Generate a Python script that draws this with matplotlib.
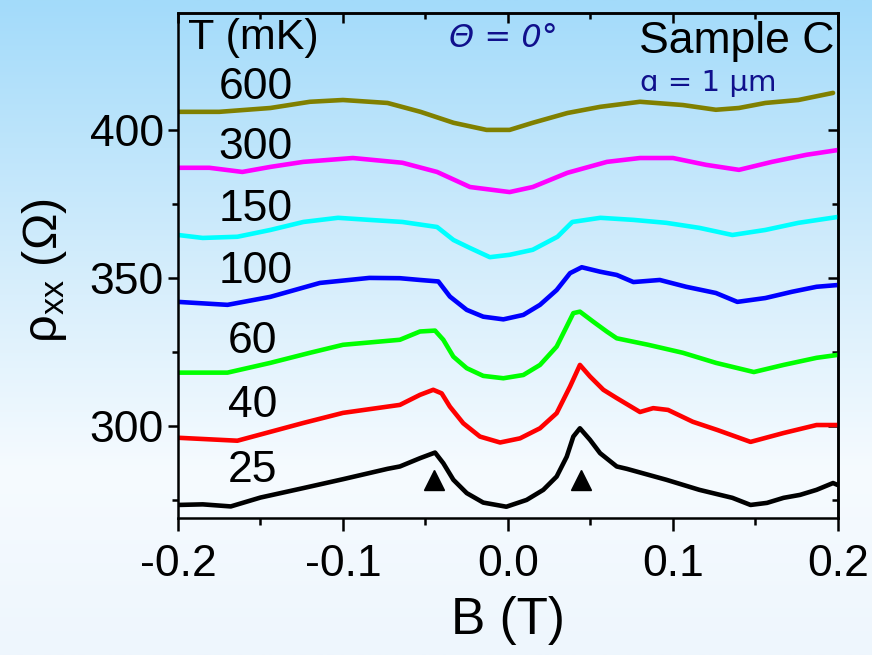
import numpy as np
import matplotlib
matplotlib.use("Agg")
import matplotlib.pyplot as plt
from matplotlib.colors import LinearSegmentedColormap

plt.rcParams['font.family'] = ['Liberation Sans', 'DejaVu Sans']
plt.rcParams['mathtext.fontset'] = 'custom'
plt.rcParams['mathtext.rm'] = 'Liberation Sans'
plt.rcParams['mathtext.it'] = 'Liberation Sans:italic'

# rho_xx(B) traces at each temperature (B in tesla, rho in ohm)
b_25 = [-0.200, -0.185, -0.168, -0.150, -0.124, -0.100, -0.073, -0.0655, -0.0533, -0.0442,
        -0.0392, -0.0331, -0.025, -0.015, -0.001, 0.0113, 0.0214, 0.0295, 0.0356, 0.0396,
        0.0436, 0.0497, 0.0558, 0.0659, 0.072, 0.096, 0.116, 0.136, 0.147, 0.157,
        0.167, 0.177, 0.187, 0.197, 0.200]
rho_25 = [273.3, 273.5, 272.8, 275.8, 279.0, 282.0, 285.5, 286.3, 289.1, 291.0,
          287.4, 281.8, 277.3, 274.1, 272.7, 275.0, 278.4, 282.9, 289.6, 296.4,
          299.2, 295.3, 290.8, 286.3, 285.5, 281.8, 278.4, 275.7, 273.3, 274.0,
          275.7, 276.7, 278.4, 280.7, 280.0]

b_40 = [-0.200, -0.164, -0.144, -0.124, -0.100, -0.0655, -0.0533, -0.0453, -0.0402, -0.0352,
        -0.0271, -0.017, -0.0048, 0.0073, 0.0194, 0.0295, 0.0376, 0.0436, 0.0497, 0.0578,
        0.0659, 0.080, 0.088, 0.097, 0.112, 0.127, 0.147, 0.167, 0.187, 0.200]
rho_40 = [296.0, 295.0, 298.0, 301.0, 304.4, 307.1, 310.5, 312.2, 311.0, 306.5,
          300.9, 296.4, 294.4, 295.8, 299.2, 304.3, 313.3, 320.6, 316.7, 312.2,
          309.4, 304.7, 306.0, 305.4, 301.4, 298.6, 294.6, 297.6, 300.3, 300.3]

b_60 = [-0.200, -0.170, -0.144, -0.120, -0.100, -0.0655, -0.0533, -0.0442, -0.0392, -0.0331,
        -0.025, -0.015, -0.0028, 0.0093, 0.0194, 0.0295, 0.0356, 0.0396, 0.0436, 0.0517,
        0.0598, 0.0659, 0.085, 0.106, 0.126, 0.149, 0.167, 0.187, 0.200]
rho_60 = [318.0, 318.0, 321.3, 324.7, 327.4, 329.1, 331.9, 332.2, 329.1, 323.4,
          319.5, 316.9, 316.1, 317.2, 320.6, 326.8, 333.6, 338.1, 338.6, 335.2,
          331.9, 329.6, 327.4, 324.7, 321.3, 318.2, 320.6, 323.0, 324.0]

b_100 = [-0.200, -0.170, -0.144, -0.114, -0.084, -0.0655, -0.0533, -0.0422, -0.0352, -0.025,
         -0.015, -0.0028, 0.0093, 0.0194, 0.0295, 0.0376, 0.0447, 0.0558, 0.0659, 0.076,
         0.092, 0.108, 0.126, 0.139, 0.156, 0.172, 0.187, 0.200]
rho_100 = [341.9, 340.9, 343.6, 348.3, 350.0, 349.9, 349.3, 348.8, 343.7, 339.2,
           336.9, 336.0, 337.5, 340.9, 345.9, 351.6, 353.6, 352.1, 351.0, 348.6,
           349.3, 347.0, 344.9, 341.9, 343.2, 345.3, 347.0, 347.6]

b_150 = [-0.200, -0.185, -0.164, -0.144, -0.124, -0.103, -0.084, -0.064, -0.043, -0.033,
         -0.023, -0.011, 0.001, 0.015, 0.030, 0.039, 0.056, 0.076, 0.096, 0.116,
         0.136, 0.156, 0.176, 0.200]
rho_150 = [364.5, 363.5, 363.9, 366.2, 368.9, 370.3, 369.6, 368.9, 367.2, 362.8,
           360.1, 357.0, 357.8, 359.5, 363.9, 368.9, 370.3, 369.6, 368.6, 366.9,
           364.5, 366.2, 368.6, 370.6]

b_300 = [-0.200, -0.181, -0.161, -0.144, -0.124, -0.094, -0.064, -0.043, -0.023, 0.001,
         0.015, 0.036, 0.060, 0.080, 0.100, 0.120, 0.140, 0.160, 0.181, 0.200]
rho_300 = [387.2, 387.2, 385.8, 387.5, 389.2, 390.5, 388.9, 385.8, 380.7, 379.0,
           380.7, 385.5, 389.2, 390.5, 390.5, 388.2, 386.5, 389.2, 391.6, 393.2]

b_600 = [-0.200, -0.175, -0.144, -0.120, -0.100, -0.073, -0.053, -0.033, -0.013, 0.001,
         0.015, 0.036, 0.056, 0.080, 0.106, 0.126, 0.140, 0.156, 0.176, 0.197]
rho_600 = [406.1, 406.1, 407.4, 409.5, 410.1, 409.1, 406.1, 402.4, 400.0, 400.0,
           402.4, 405.7, 407.8, 409.5, 408.4, 406.8, 407.4, 409.1, 410.1, 412.5]

temps = ['600', '300', '150', '100', '60', '40', '25']
colors = ['#808000', '#ff00ff', '#00ffff', '#0000ff', '#00ff00', '#ff0000', '#000000']
label_x = [-0.153, -0.153, -0.153, -0.153, -0.155, -0.155, -0.155]
label_y = [414.2, 393.9, 373.0, 352.0, 328.4, 306.8, 285.0]

# field positions of the two peaks marked with triangles
mark_b = [-0.045, 0.044]
mark_rho = [281.8, 281.8]

fig = plt.figure(figsize=(8.72, 6.55), dpi=100)

# page background: light blue at the top fading to near white
bg = fig.add_axes([0, 0, 1, 1], zorder=-10)
cmap = LinearSegmentedColormap.from_list(
    'bg', [(0.0, '#a3dbfa'), (0.45, '#d9effc'), (0.72, '#f6fbff'), (1.0, '#eef6fd')])
grad = np.linspace(0, 1, 256).reshape(-1, 1)
bg.imshow(grad, aspect='auto', cmap=cmap, extent=[0, 1, 0, 1], origin='upper')
bg.axis('off')

ax = fig.add_axes([0.2041, 0.2092, 0.7569, 0.7710])
ax.set_facecolor('none')

series = [(b_600, rho_600), (b_300, rho_300), (b_150, rho_150), (b_100, rho_100),
          (b_60, rho_60), (b_40, rho_40), (b_25, rho_25)]
for (b, r), c in zip(series, colors):
    ax.plot(b, r, color=c, lw=3.3, solid_joinstyle='round', solid_capstyle='round')

for t, x, y in zip(temps, label_x, label_y):
    ax.text(x, y, t, fontsize=32, ha='center', va='center', color='black')

ax.plot(mark_b, mark_rho, linestyle='none', marker='^', ms=15, color='black')

ax.text(-0.194, 431, 'T (mK)', fontsize=31, ha='left', va='center')
ax.text(0.198, 430, 'Sample C', fontsize=32, ha='right', va='center')
ax.text(-0.036, 431, 'Θ = 0°', fontsize=23, ha='left', va='center',
        color='#10108c', style='italic', family=['DejaVu Sans'])
ax.text(0.080, 415.8, 'ɑ = 1 μm', fontsize=21, ha='left', va='center',
        color='#10108c', family=['DejaVu Sans'])

ax.set_xlim(-0.2, 0.2)
ax.set_ylim(268.9, 439.5)
ax.set_xticks([-0.2, -0.1, 0.0, 0.1, 0.2])
ax.set_xticklabels(['-0.2', '-0.1', '0.0', '0.1', '0.2'])
ax.set_xticks([-0.15, -0.05, 0.05, 0.15], minor=True)
ax.set_yticks([300, 350, 400])
ax.set_yticks([275, 325, 375], minor=True)

for s in ax.spines.values():
    s.set_linewidth(1.8)

ax.tick_params(axis='x', which='major', direction='out', length=9, width=1.8,
               labelsize=32, pad=10)
ax.tick_params(axis='x', which='minor', direction='out', length=5, width=1.8)
ax.tick_params(axis='y', which='major', direction='out', length=7, width=1.8,
               labelsize=32, pad=3)
ax.tick_params(axis='y', which='minor', direction='out', length=4, width=1.8)

# mirrored ticks on the top and right edges point inward
top = ax.secondary_xaxis('top')
top.set_xticks([-0.2, -0.1, 0.0, 0.1, 0.2])
top.set_xticks([-0.15, -0.05, 0.05, 0.15], minor=True)
top.tick_params(which='major', direction='in', length=7, width=1.8, labeltop=False)
top.tick_params(which='minor', direction='in', length=4, width=1.8)
top.spines['top'].set_linewidth(1.8)
right = ax.secondary_yaxis('right')
right.set_yticks([300, 350, 400])
right.set_yticks([275, 325, 375], minor=True)
right.tick_params(which='major', direction='in', length=7, width=1.8, labelright=False)
right.tick_params(which='minor', direction='in', length=4, width=1.8)
right.spines['right'].set_linewidth(1.8)

ax.set_xlabel('B (T)', fontsize=37, labelpad=8)
ax.set_ylabel(r'$\mathrm{ρ_{xx}}$ (Ω)', fontsize=35)
ax.yaxis.set_label_coords(-0.165, 0.49)

fig.savefig('out.png', dpi=100)
